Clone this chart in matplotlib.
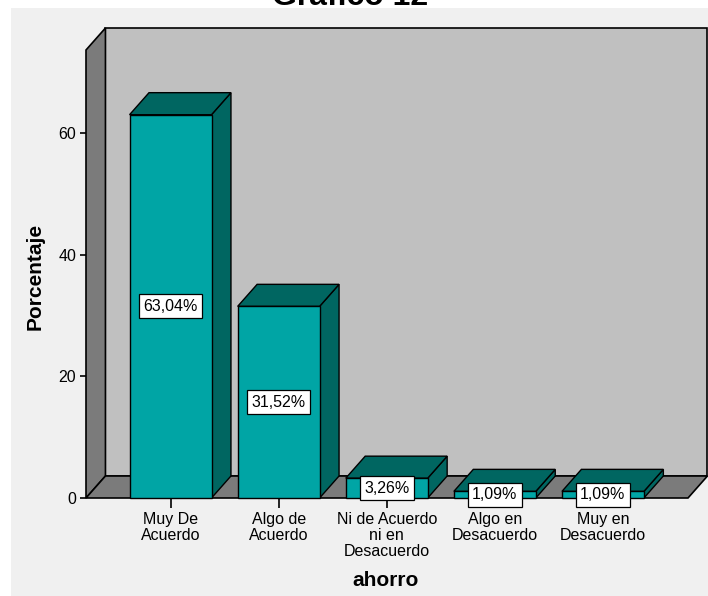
import numpy as np
import matplotlib
matplotlib.use('Agg')
import matplotlib.pyplot as plt
from matplotlib.patches import Polygon, Rectangle

plt.rcParams['font.family'] = ['Liberation Sans', 'DejaVu Sans']

categories = ['Muy De\nAcuerdo', 'Algo de\nAcuerdo', 'Ni de Acuerdo\nni en\nDesacuerdo',
              'Algo en\nDesacuerdo', 'Muy en\nDesacuerdo']
values = [63.04, 31.52, 3.26, 1.09, 1.09]
value_labels = ['63,04%', '31,52%', '3,26%', '1,09%', '1,09%']
yticks = [0, 20, 40, 60]

front = '#00a5a5'
dark = '#006661'
wall_back = '#c0c0c0'
wall_side = '#7b7b7b'
bg = '#f0f0f0'

W, H = 708, 596
fig = plt.figure(figsize=(W / 100, H / 100), dpi=100, facecolor='white')
fig.patches.append(Rectangle((11 / W, 0), 1, 1 - 8 / H, transform=fig.transFigure,
                             fc=bg, ec='none', zorder=-10))

# front plane of the 3D box
left, right, bottom, top = 86, 688, 498, 50
ax = fig.add_axes([left / W, (H - bottom) / H, (right - left) / W, (bottom - top) / H])
ax.set_facecolor('none')

x = np.arange(len(values))
xmin, xmax = -0.782, 4.787
ymin, ymax = 0, 73.68
ax.set_xlim(xmin, xmax)
ax.set_ylim(ymin, ymax)

dx, dy = 0.18, 3.62   # depth offset
hw = 0.379            # half bar width

for s in ax.spines.values():
    s.set_visible(False)

# walls and floor
ax.add_patch(Polygon([(xmin + dx, dy), (xmax + dx, dy), (xmax + dx, ymax + dy), (xmin + dx, ymax + dy)],
                     closed=True, fc=wall_back, ec='black', lw=1.2, clip_on=False, zorder=1))
ax.add_patch(Polygon([(xmin, 0), (xmin, ymax), (xmin + dx, ymax + dy), (xmin + dx, dy)],
                     closed=True, fc=wall_side, ec='black', lw=1.2, clip_on=False, zorder=2))
ax.add_patch(Polygon([(xmin, 0), (xmax, 0), (xmax + dx, dy), (xmin + dx, dy)],
                     closed=True, fc=wall_side, ec='black', lw=1.2, clip_on=False, zorder=2))

# bars
for xi, v, lab in zip(x, values, value_labels):
    x0, x1 = xi - hw, xi + hw
    ax.add_patch(Polygon([(x1, 0), (x1 + dx, dy), (x1 + dx, v + dy), (x1, v)],
                         closed=True, fc=dark, ec='black', lw=1.0, clip_on=False, zorder=3))
    ax.add_patch(Polygon([(x0, v), (x1, v), (x1 + dx, v + dy), (x0 + dx, v + dy)],
                         closed=True, fc=dark, ec='black', lw=1.0, clip_on=False, zorder=3))
    ax.add_patch(Rectangle((x0, 0), 2 * hw, v, fc=front, ec='black', lw=1.0,
                           clip_on=False, zorder=4))
    ax.text(xi, v / 2, lab, ha='center', va='center', fontsize=11.5, zorder=6,
            bbox=dict(boxstyle='square,pad=0.28', fc='white', ec='black', lw=0.9))

ax.set_xticks(x)
ax.set_xticklabels(categories, fontsize=11.5, linespacing=1.1)
ax.set_yticks(yticks)
ax.set_yticklabels([str(t) for t in yticks], fontsize=11.5)
ax.tick_params(axis='x', direction='out', length=7, width=1.2, pad=3)
ax.tick_params(axis='y', direction='out', length=4.5, width=1.2, pad=2.5)

fig.text(386 / W, 1 - 580 / H, 'ahorro', ha='center', va='center',
         fontsize=15, fontweight='bold')
fig.text(35 / W, 1 - 276 / H, 'Porcentaje', rotation=90, ha='center', va='center',
         fontsize=15, fontweight='bold')

fig.text(350 / W, 1 - 5 / H, 'Gráfico 12', ha='center', va='baseline',
         fontsize=23, fontweight='bold')

fig.savefig('out.png', dpi=100, facecolor=fig.get_facecolor())
